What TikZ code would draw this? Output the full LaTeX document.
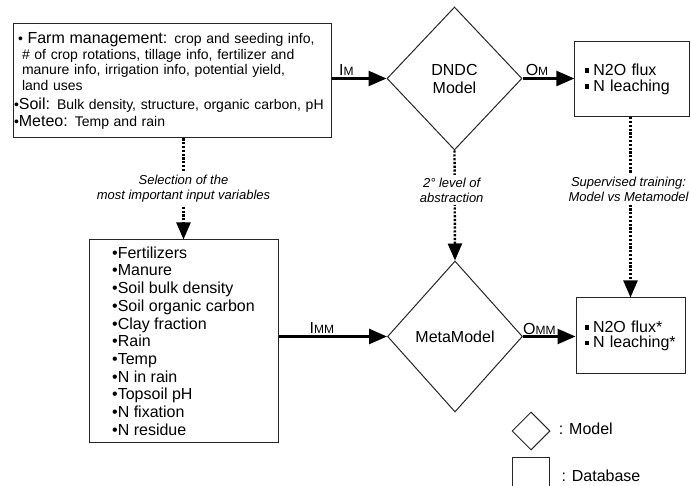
\documentclass[tikz,border=0pt]{standalone}
\usepackage{fontspec}
\setmainfont{Liberation Sans}
\usetikzlibrary{shapes.geometric,arrows.meta}

% font sizes used in the boxes
\newcommand{\txtbig}{\fontsize{16}{18}\selectfont}
\newcommand{\txtsmall}{\fontsize{14}{15.5}\selectfont}
% small square bullet
\newcommand{\sqbul}{\raisebox{2.5pt}{\rule{4.5pt}{4.5pt}}\hspace{4pt}}
% input/output label, big letter then small index
\newcommand{\iolbl}[2]{{\fontsize{16}{16}\selectfont #1}{\fontsize{12}{12}\selectfont #2}}

\begin{document}
\begin{tikzpicture}[x=1pt,y=-1pt,
  dbbox/.style={draw=black!85, line width=1pt, rectangle, inner sep=0pt},
  modelbox/.style={draw=black!85, line width=1pt, diamond, inner sep=0pt, align=center, font=\txtbig},
  flow/.style={line width=2.6pt, -{Triangle[length=18pt,width=15pt]}},
  dotflow/.style={line width=2.4pt, dash pattern=on 2.2pt off 1.6pt, -{Triangle[length=17pt,width=14pt]}},
  note/.style={fill=white, align=center, inner xsep=2pt, inner ysep=3pt, font=\fontsize{13}{15}\selectfont\itshape}
]
% page size, cuts the legend box at the bottom
\clip (0,0) rectangle (691,486);

% Input database of the model
\node[dbbox, minimum width=318pt, minimum height=114pt, text width=316pt, inner xsep=1pt, align=left, font=\txtsmall] (farm) at (172,81) {
\hspace*{4pt}•\ {\txtbig Farm management:} crop and seeding info,\\
\hspace*{8pt}\# of crop rotations, tillage info, fertilizer and\\
\hspace*{8pt}manure info, irrigation info, potential yield,\\
\hspace*{8pt}land uses\\[3.5pt]
•{\txtbig Soil:} Bulk density, structure, organic carbon, pH\\[1.5pt]
•{\txtbig Meteo:} Temp and rain};

% DNDC model and its outputs
\node[modelbox, minimum width=135pt, minimum height=143pt] (dndc) at (454.5,78.5) {DNDC\\Model};
\node[dbbox, minimum width=115pt, minimum height=75pt, text width=95pt, inner xsep=10pt, align=left, font=\fontsize{16}{16}\selectfont] (outm) at (632.3,79.2) {\sqbul N2O flux\\\sqbul N leaching};

% Selected input variables
\node[dbbox, minimum width=189pt, minimum height=202pt, align=left, font=\fontsize{16}{17.7}\selectfont] (sel) at (183.5,341) {•Fertilizers\\•Manure\\•Soil bulk density\\•Soil organic carbon\\•Clay fraction\\•Rain\\•Temp\\•N in rain\\•Topsoil pH\\•N fixation\\•N residue};

% Metamodel and its outputs
\node[modelbox, minimum width=135pt, minimum height=151pt] (meta) at (455,336.5) {MetaModel};
\node[dbbox, minimum width=109pt, minimum height=76pt, text width=92pt, inner xsep=8.5pt, align=left, font=\fontsize{16}{15.5}\selectfont] (outmm) at (630.5,336) {\sqbul N2O flux*\\\sqbul N leaching*};

% Inputs and outputs
\draw[flow] (farm.east |- dndc.west) -- node[above, pos=0.27, inner sep=1.5pt] (im) {\iolbl{I}{M}} (dndc.west);
\draw[flow] (dndc.east) -- node[above, pos=0.28, inner sep=1.5pt] (om) {\iolbl{O}{M}} (dndc.east -| outm.west);
\draw[flow] (sel.east |- meta.west) -- node[above, pos=0.4, inner sep=1.5pt] (imm) {\iolbl{I}{MM}} (meta.west);
\draw[flow] (meta.east) -- node[above, pos=0.31, inner sep=1pt] (omm) {\iolbl{O}{MM}} (meta.east -| outmm.west);

% Dotted links between the two levels
\draw[dotflow] (sel.north |- farm.south) -- node[note] (selnote) {Selection of the\\most important input variables} (sel.north);
\draw[dotflow] (dndc.south) -- node[note, pos=0.36, xshift=-3pt] (absnote) {2° level of\\abstraction} (meta.north);
\draw[dotflow] (outmm.north |- outm.south) -- node[note, pos=0.4, xshift=-2pt] (trainnote) {Supervised training:\\Model vs Metamodel} (outmm.north);

% Legend
\node[modelbox, minimum width=38pt, minimum height=38pt] (legmod) at (531,431) {};
\node[anchor=base west, inner sep=0pt, font=\txtbig] (legmodtxt) at (558.6,434.5) {: Model};
\node[dbbox, minimum width=37.6pt, minimum height=37pt, anchor=north west] (legdb) at (511.7,457.3) {};
\node[anchor=base west, inner sep=0pt, font=\txtbig] (legdbtxt) at (561.3,481.5) {: Database};

\end{tikzpicture}
\end{document}
